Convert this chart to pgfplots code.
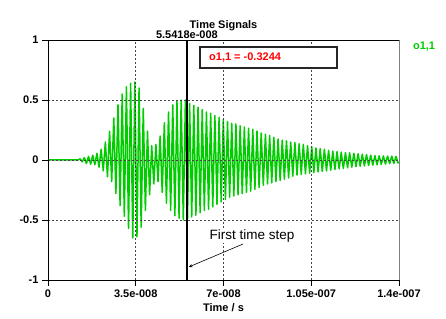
\documentclass[border=0pt]{standalone}
\usepackage{fontspec}
\setmainfont{Liberation Sans}
\usepackage{pgfplots}
\pgfplotsset{compat=1.18}
\definecolor{sig}{RGB}{0,204,0}
\definecolor{gridc}{RGB}{70,70,70}
\begin{document}
\begin{tikzpicture}
\useasboundingbox (0,0) rectangle (446pt,318pt);
\begin{axis}[
  at={(48pt,38pt)}, anchor=south west,
  width=351pt, height=240pt, scale only axis,
  xmin=0, xmax=140, ymin=-1, ymax=1,
  clip=false,
  axis on top,
  xtick={0,35,70,105,140},
  xticklabels={0,3.5e-008,7e-008,1.05e-007,1.4e-007},
  ytick={-1,-0.5,0,0.5,1},
  yticklabels={-1,-0.5,0,0.5,1},
  xtick pos=bottom, ytick pos=left,
  tick align=outside, major tick length=6pt,
  tick style={black, line width=0.8pt},
  ticklabel style={font=\bfseries\fontsize{11}{13}\selectfont},
  axis line style={black, line width=0.9pt},
  grid=major,
  major grid style={gridc, line width=0.6pt, dash pattern=on 2pt off 2pt},
]
\addplot[sig, line width=1.5pt, line join=round] coordinates {
(0,0) (12.0,0)
(12.80,0.01) (13.64,-0.015) (14.48,0.02) (15.32,-0.03) (16.16,0.03) (17.00,-0.035)
(17.84,0.04) (18.68,-0.04) (19.52,0.055) (20.36,-0.06) (21.20,0.09) (22.04,-0.09)
(22.88,0.15) (23.72,-0.14) (24.56,0.24) (25.40,-0.18) (26.24,0.35) (27.08,-0.28)
(27.92,0.46) (28.76,-0.38) (29.60,0.55) (30.44,-0.47) (31.28,0.61) (32.12,-0.57)
(32.96,0.64) (33.80,-0.65) (34.64,0.65) (35.48,-0.64) (36.32,0.60) (37.16,-0.56)
(38.00,0.43) (38.84,-0.42) (39.68,0.24) (40.52,-0.29) (41.36,0.12) (42.20,-0.20)
(43.04,0.13) (43.88,-0.18) (44.72,0.20) (45.56,-0.27) (46.40,0.31) (47.24,-0.36)
(48.08,0.40) (48.92,-0.42) (49.76,0.46) (50.60,-0.465) (51.44,0.49) (52.28,-0.485)
(53.12,0.50) (53.96,-0.50) (54.80,0.50) (55.64,-0.49) (56.48,0.47) (57.32,-0.475)
(58.16,0.455) (59.00,-0.46) (59.84,0.44) (60.68,-0.44) (61.52,0.42) (62.36,-0.42)
(63.20,0.40) (64.04,-0.41) (64.88,0.39) (65.72,-0.39) (66.56,0.37) (67.40,-0.37)
(68.24,0.355) (69.08,-0.35) (69.92,0.34) (70.76,-0.33) (71.60,0.32) (72.44,-0.31)
(73.28,0.305) (74.12,-0.30) (74.96,0.30) (75.80,-0.29) (76.64,0.285) (77.48,-0.28)
(78.32,0.275) (79.16,-0.27) (80.00,0.265) (80.84,-0.26) (81.68,0.255) (82.52,-0.245)
(83.36,0.24) (84.20,-0.23) (85.04,0.225) (85.88,-0.21) (86.72,0.215) (87.56,-0.20)
(88.40,0.205) (89.24,-0.19) (90.08,0.19) (90.92,-0.18) (91.76,0.175) (92.60,-0.17)
(93.44,0.165) (94.28,-0.16) (95.12,0.16) (95.96,-0.15) (96.80,0.15) (97.64,-0.135)
(98.48,0.145) (99.32,-0.125) (100.16,0.135) (101.00,-0.12) (101.84,0.13) (102.68,-0.115)
(103.52,0.12) (104.36,-0.11) (105.20,0.11) (106.04,-0.105) (106.88,0.10) (107.72,-0.10)
(108.56,0.095) (109.40,-0.095) (110.24,0.09) (111.08,-0.09) (111.92,0.08) (112.76,-0.085)
(113.60,0.075) (114.44,-0.08) (115.28,0.07) (116.12,-0.075) (116.96,0.065) (117.80,-0.07)
(118.64,0.062) (119.48,-0.065) (120.32,0.06) (121.16,-0.06) (122.00,0.056) (122.84,-0.055)
(123.68,0.052) (124.52,-0.052) (125.36,0.048) (126.20,-0.05) (127.04,0.045) (127.88,-0.046)
(128.72,0.04) (129.56,-0.043) (130.40,0.036) (131.24,-0.04) (132.08,0.035) (132.92,-0.037)
(133.76,0.034) (134.60,-0.034) (135.44,0.033) (136.28,-0.031) (137.12,0.032) (137.96,-0.028)
(138.80,0.03) (139.64,-0.025) (140,-0.02)
};
\draw[black, line width=1.6pt] (axis cs:55.418,-1) -- (axis cs:55.418,1);
\coordinate (b1) at (axis cs:60.6,0.942);
\coordinate (b2) at (axis cs:115.3,0.767);
\coordinate (bt) at (axis cs:64.2,0.858);
\coordinate (cur) at (axis cs:55.418,1);
\coordinate (ttl) at (axis cs:70,1);
\coordinate (xl) at (axis cs:70,-1);
\coordinate (leg) at (axis cs:150,0.942);
\coordinate (fts) at (axis cs:81.4,-0.633);
\coordinate (a1) at (axis cs:77.8,-0.70);
\coordinate (a2) at (axis cs:56.2,-0.891);
\coordinate (tr) at (axis cs:140,1);
\coordinate (br) at (axis cs:140,-1);
\end{axis}
\draw[gray, line width=0.9pt] (br) -- (tr);
\draw[fill=white, draw=gray!30!black, line width=1.5pt] (b1) rectangle (b2);
\node[anchor=west, inner sep=0pt, text=red, font=\bfseries\fontsize{11}{13}\selectfont] at (bt) {o1,1 = -0.3244};
\node[anchor=south, inner sep=1pt, font=\bfseries\fontsize{11}{13}\selectfont] at (cur) {5.5418e-008};
\node[font=\bfseries\fontsize{11}{13}\selectfont] at ([yshift=14pt]ttl) {Time Signals};
\node[font=\bfseries\fontsize{11}{13}\selectfont] at ([yshift=-28pt]xl) {Time / s};
\node[text=sig, font=\bfseries\fontsize{11}{13}\selectfont] at (leg) {o1,1};
\node[fill=white, inner sep=1pt, font=\fontsize{13.5}{16}\selectfont] at (fts) {First time step};
\draw[-stealth, line width=0.6pt] (a1) -- (a2);
\end{tikzpicture}
\end{document}
